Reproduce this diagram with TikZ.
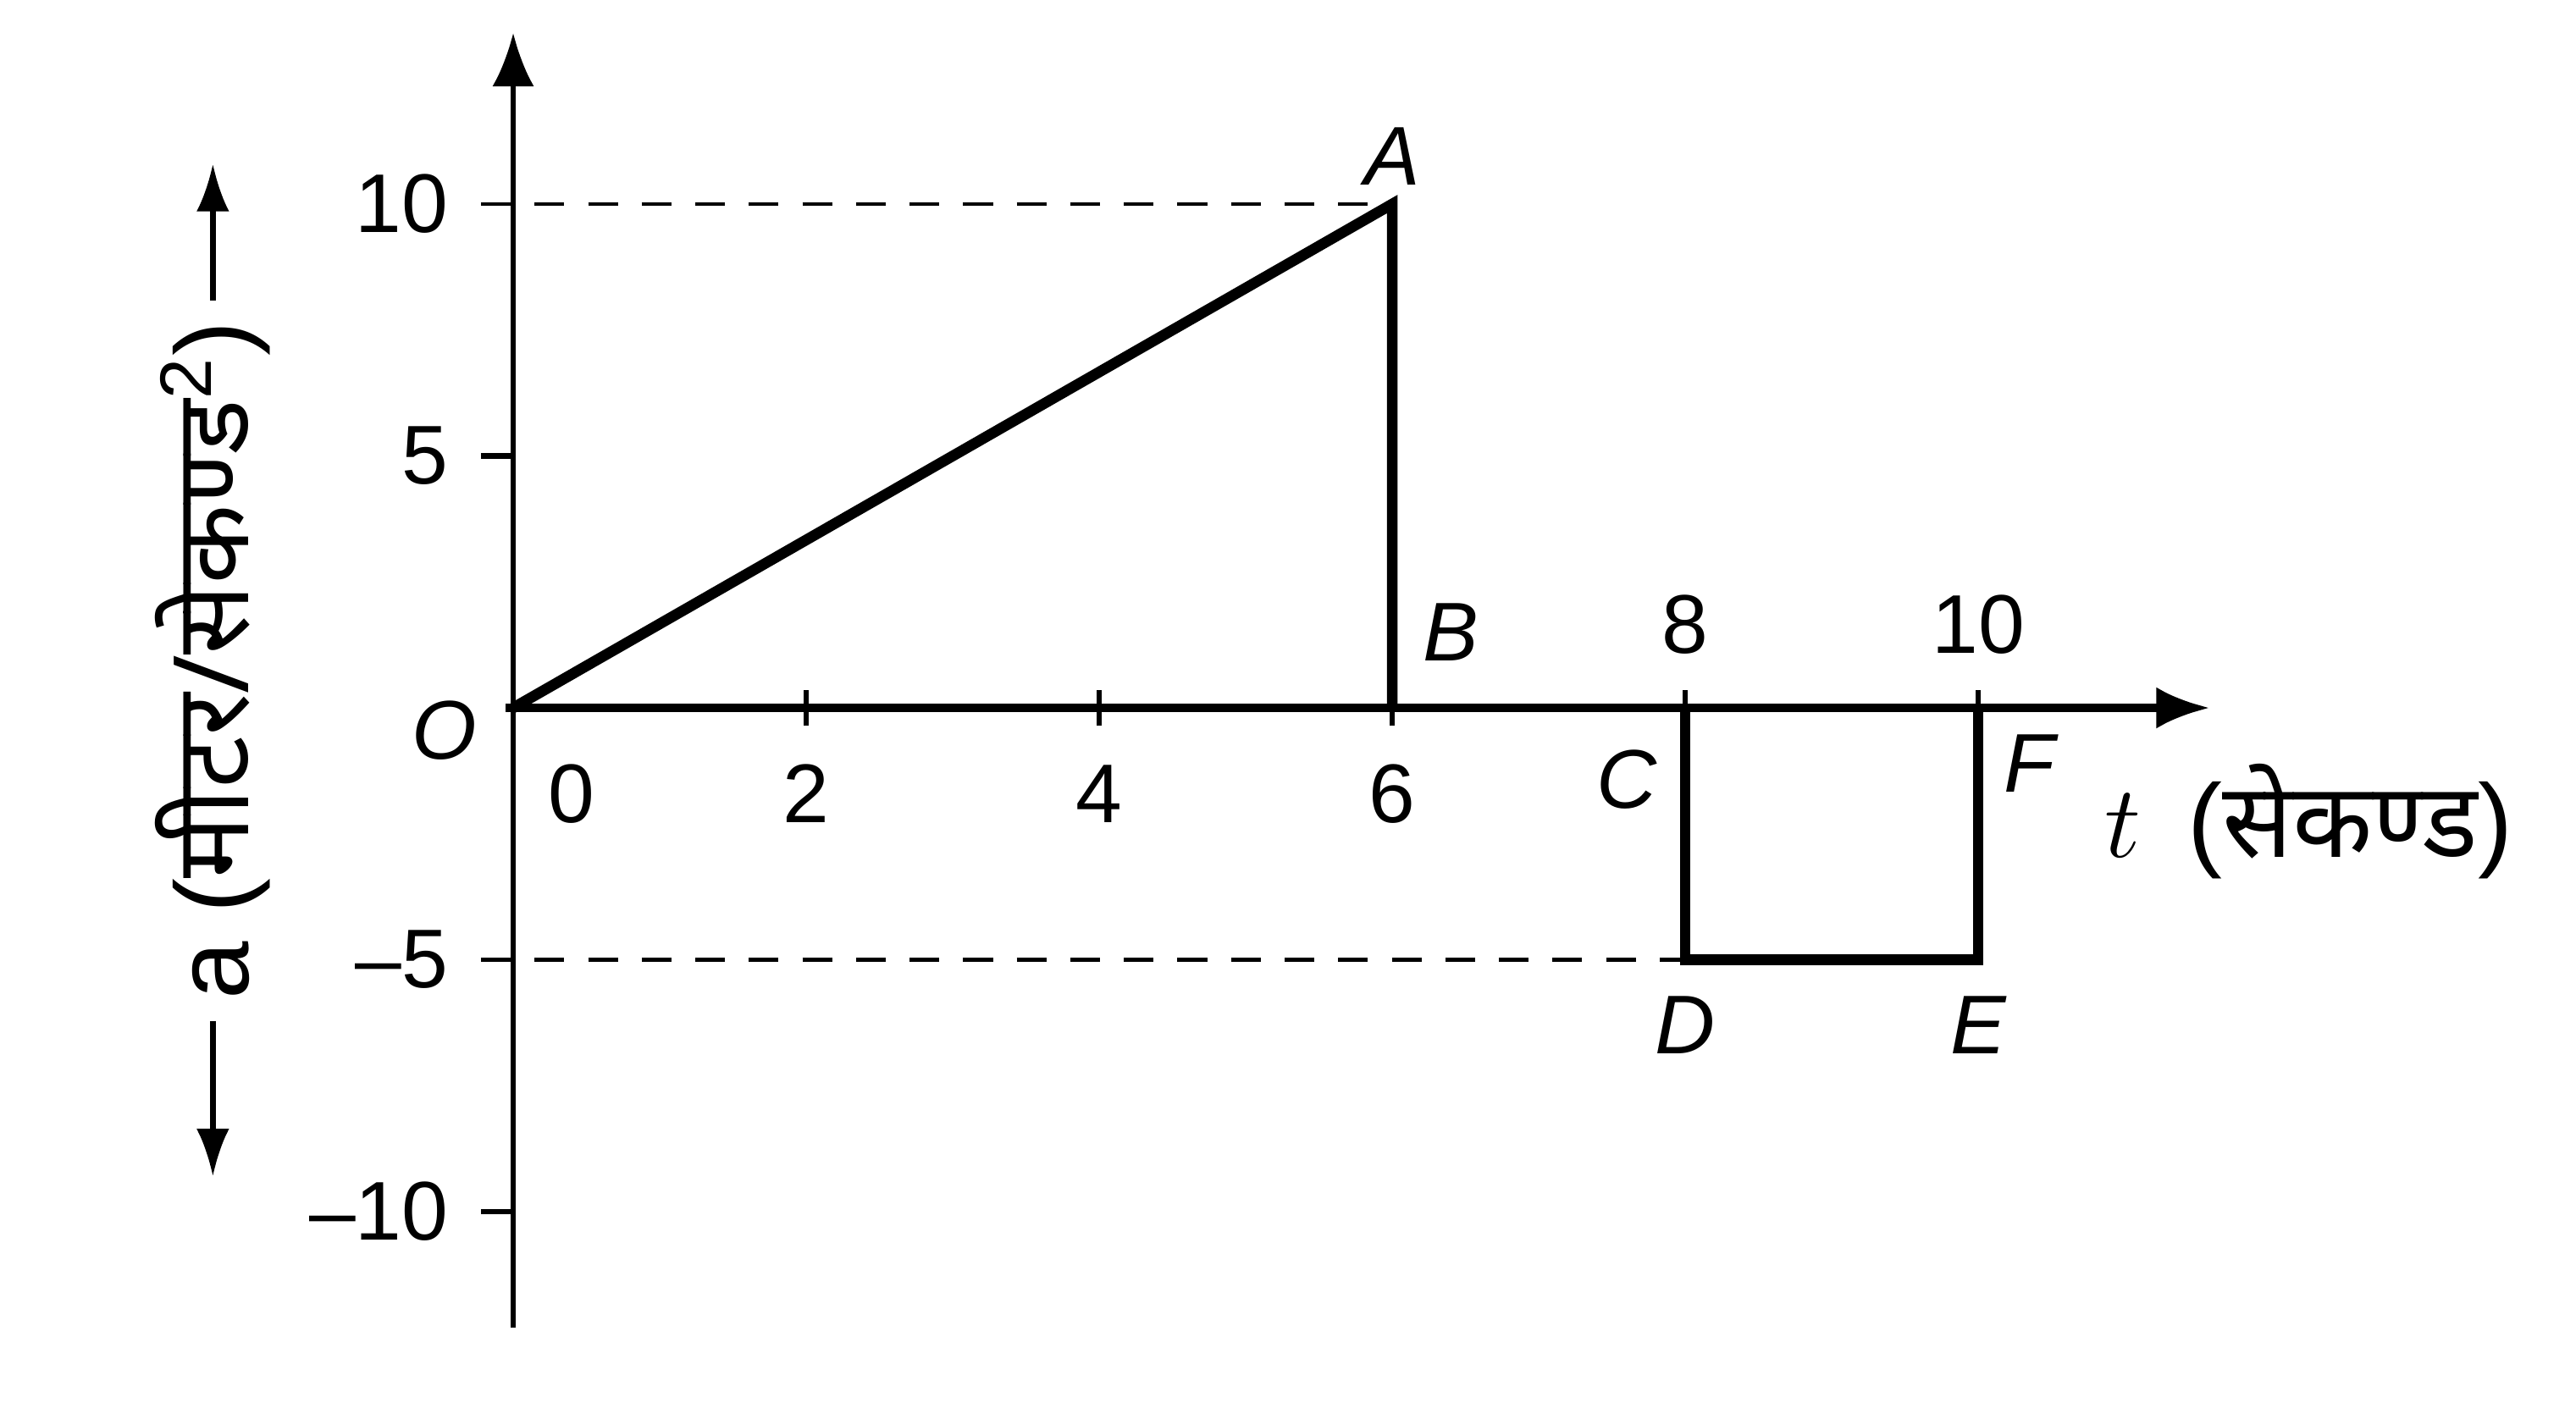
\documentclass[tikz,border=0pt]{standalone}
\usepackage{fontspec}
\setmainfont{Liberation Sans}
\newfontfamily\deva[Script=Devanagari]{Noto Sans}
\usetikzlibrary{arrows.meta}

\begin{document}
\begin{tikzpicture}[x=0.865cm, y=0.2975cm,
    every node/.style={font=\fontsize{14}{16}\selectfont},
    axis/.style={line width=0.9pt},
    curve/.style={line width=1.8pt, line join=miter},
    guide/.style={line width=0.6pt, dash pattern=on 5pt off 4pt},
    ptlabel/.style={font=\fontsize{14}{16}\selectfont\itshape},
    axlabel/.style={font=\fontsize{17.5}{20}\selectfont}]

    \useasboundingbox (-3.503,-14.0) rectangle (14.08,14.05);

    % Points of the graph
    \coordinate (O) at (0,0);
    \coordinate (A) at (6,10);
    \coordinate (B) at (6,0);
    \coordinate (C) at (8,0);
    \coordinate (D) at (8,-5);
    \coordinate (E) at (10,-5);
    \coordinate (F) at (10,0);

    % Draw the coordinate axes
    \coordinate (ybot) at (0,-12.3);
    \coordinate (ytop) at (0,13.4);
    \coordinate (xbeg) at (-0.05,0);
    \coordinate (xend) at (11.58,0);
    \draw[axis, -{Latex[length=9pt,width=7pt]}] (ybot) -- (ytop);
    \draw[axis, line width=1.3pt, -{Latex[length=9pt,width=7pt]}] (xbeg) -- (xend);

    % Ticks on both axes
    \foreach \t in {2,4,...,10}
        \draw[axis] (\t,-0.35) -- (\t,0.35);
    \foreach \v in {5,-10}
        \draw[axis] (-0.22,\v) -- (0,\v);

    % Dashed guide lines to A and D
    \coordinate (g10) at (-0.22,10);
    \coordinate (gm5) at (-0.22,-5);
    \draw[guide] (g10) -- (A);
    \draw[guide] (gm5) -- (D);

    % The a-t graph
    \draw[curve] (O) -- (A) -- (B);
    \draw[curve] (C) -- (D) -- (E) -- (F);

    % Tick labels
    \foreach \v/\s/\n in {10/10/a,5/5/b,-5/–5/c,-10/–10/d}
        \node[anchor=east] (ytick\n) at (-0.3,\v) {\s};
    \node (xtick0) at (0.4,-1.7) {0};
    \foreach \t in {2,4,6}
        \node (xtick\t) at (\t,-1.7) {\t};
    \foreach \t in {8,10}
        \node (xtick\t) at (\t,1.66) {\t};

    % Point labels
    \node[ptlabel] (labO) at (-0.47,-0.45) {O};
    \node[ptlabel] (labA) at (6.0,10.95) {A};
    \node[ptlabel] (labB) at (6.4,1.5) {B};
    \node[ptlabel] (labC) at (7.6,-1.43) {C};
    \node[ptlabel] (labD) at (8.0,-6.3) {D};
    \node[ptlabel] (labE) at (10.0,-6.3) {E};
    \node[ptlabel] (labF) at (10.35,-1.1) {F};

    % Axis names
    \node[axlabel, anchor=west] (tlab) at (10.72,-2.25) {$t$\ \,({\deva सेकण्ड})};
    \node[axlabel, rotate=90] (alab) at (-2.05,0.94) {a ({\deva मीटर/सेकण्ड}\textsuperscript{2})};
    \coordinate (aup) at (-2.05,10.8);
    \coordinate (adown) at (-2.05,-9.3);
    \draw[axis, -{Latex[length=8pt,width=5.5pt]}] (alab.east) -- (aup);
    \draw[axis, -{Latex[length=8pt,width=5.5pt]}] (alab.west) -- (adown);

\end{tikzpicture}
\end{document}
